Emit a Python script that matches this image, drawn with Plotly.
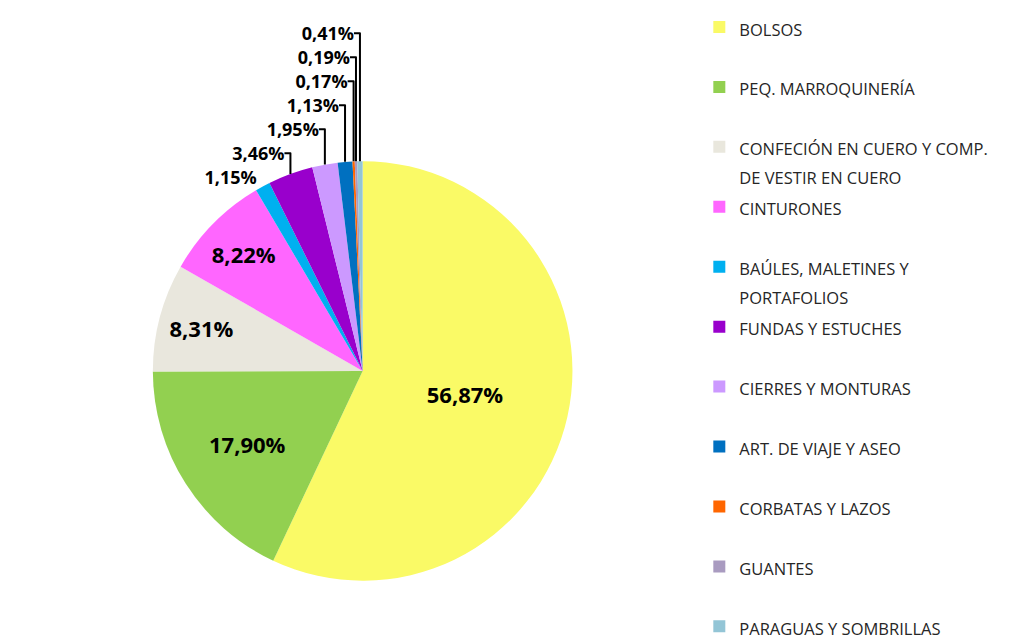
import plotly.graph_objects as go

categories = ["BOLSOS", "PEQ. MARROQUINERÍA", "CONFECIÓN EN CUERO Y COMP.<br>DE VESTIR EN CUERO",
              "CINTURONES", "BAÚLES, MALETINES Y<br>PORTAFOLIOS", "FUNDAS Y ESTUCHES",
              "CIERRES Y MONTURAS", "ART. DE VIAJE Y ASEO", "CORBATAS Y LAZOS",
              "GUANTES", "PARAGUAS Y SOMBRILLAS"]
values = [56.87, 17.90, 8.31, 8.22, 1.15, 3.46, 1.95, 1.13, 0.17, 0.19, 0.41]
colors = ["#FAFA66", "#92D050", "#E9E7DD", "#FF66FF", "#00B0F0", "#9900CC",
          "#CC99FF", "#0070C0", "#FF6600", "#A99BC0", "#93C5D6"]
text_pos = ["inside"] * 4 + ["outside"] * 7

# legend entries: visible text in a span, padded to two lines so entries are evenly spaced
span = "<span style='font-size:16.5px'>{}</span>"
legend_labels = []
for i, c in enumerate(categories):
    lines = c.split("<br>")
    pad = 0 if i == len(categories) - 1 else 2 - len(lines)
    legend_labels.append("<br>".join(span.format(l) for l in lines) + "<br> " * pad)

fig = go.Figure(go.Pie(
    labels=legend_labels,
    values=values,
    sort=False,
    direction="clockwise",
    rotation=0,
    marker=dict(colors=colors, line=dict(width=0)),
    texttemplate="%{value:.2f}%",
    textposition=text_pos,
    insidetextfont=dict(family="Open Sans", size=22, color="black", weight="bold"),
    outsidetextfont=dict(family="Open Sans", size=18, color="black", weight="bold"),
    insidetextorientation="horizontal",
    domain=dict(x=[0.0, 0.69], y=[0.105, 0.77]),
    hovertemplate="%{value:.2f}%<extra></extra>",
))

fig.update_layout(
    width=1019, height=639,
    separators=",.",
    margin=dict(l=10, r=10, t=8, b=0, autoexpand=False),
    paper_bgcolor="white",
    plot_bgcolor="white",
    showlegend=True,
    legend=dict(
        x=0.682, xanchor="left", y=1.0155, yanchor="top",
        font=dict(family="Open Sans", size=21.9, color="#262626"),
        valign="top",
        traceorder="normal",
        maxheight=700,
    ),
)

fig.write_html("out.html")
